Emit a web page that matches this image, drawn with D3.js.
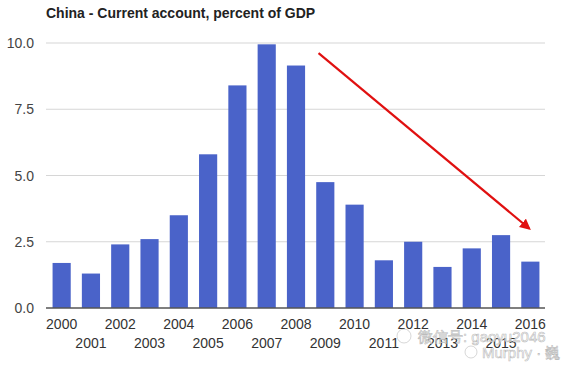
<!DOCTYPE html>
<html>
<head>
<meta charset="UTF-8">
<title>China current account</title>
<script src="https://d3js.org/d3.v7.min.js"></script>
<style>
  body { margin: 0; background: #fff; }
  text { font-family: "Liberation Sans", Arial, sans-serif; }
</style>
</head>
<body>
<div id="chart"></div>
<script>
var years = ["2000","2001","2002","2003","2004","2005","2006","2007","2008",
             "2009","2010","2011","2012","2013","2014","2015","2016"];
var values = [1.7, 1.3, 2.4, 2.6, 3.5, 5.8, 8.4, 9.95, 9.15,
              4.75, 3.9, 1.8, 2.5, 1.55, 2.25, 2.75, 1.75];
var yTicks = [0, 2.5, 5, 7.5, 10];
// trend arrow, in (year index, value) units
var arrowFrom = [8.77, 9.62];
var arrowTo = [15.96, 3.0];

var width = 576, height = 370;
var margin = {top: 43, right: 31, bottom: 62, left: 47};

var svg = d3.select("#chart").append("svg")
  .attr("width", width).attr("height", height);

var x = d3.scaleBand()
  .domain(years)
  .range([margin.left, width - margin.right])
  .paddingInner(0.38).paddingOuter(0.19);

var y = d3.scaleLinear()
  .domain([0, 10])
  .range([height - margin.bottom, margin.top]);

// index scale for the annotation arrow
var xi = d3.scaleLinear()
  .domain([0, years.length - 1])
  .range([x(years[0]) + x.bandwidth() / 2, x(years[years.length - 1]) + x.bandwidth() / 2]);

svg.append("text")
  .attr("x", 46).attr("y", 18)
  .attr("font-size", 14).attr("font-weight", "bold").attr("fill", "#222")
  .text("China - Current account, percent of GDP");

// gridlines
svg.append("g").selectAll("line")
  .data(yTicks.slice(1))
  .join("line")
  .attr("x1", 46).attr("x2", 545)
  .attr("y1", d => y(d)).attr("y2", d => y(d))
  .attr("stroke", "#d6d6d6").attr("stroke-width", 1.2);

svg.append("g").selectAll("text")
  .data(yTicks)
  .join("text")
  .attr("x", 34).attr("y", d => y(d) + 5)
  .attr("text-anchor", "end")
  .attr("font-size", 14).attr("fill", "#444")
  .text(d => d3.format(".1f")(d));

svg.append("g").selectAll("rect")
  .data(values)
  .join("rect")
  .attr("x", (d, i) => x(years[i]))
  .attr("width", x.bandwidth())
  .attr("y", d => y(d))
  .attr("height", d => y(0) - y(d))
  .attr("fill", "#4a63c9");

// baseline
svg.append("line")
  .attr("x1", 46).attr("x2", 545)
  .attr("y1", y(0)).attr("y2", y(0))
  .attr("stroke", "#555").attr("stroke-width", 1.3);

svg.append("g").selectAll("text")
  .data(years)
  .join("text")
  .attr("x", d => x(d) + x.bandwidth() / 2)
  .attr("y", (d, i) => i % 2 === 0 ? 329 : 348)
  .attr("text-anchor", "middle")
  .attr("font-size", 14).attr("fill", "#333")
  .text(d => d);

// red trend arrow
svg.append("defs").append("marker")
  .attr("id", "head")
  .attr("viewBox", "0 0 10 10")
  .attr("refX", 8).attr("refY", 5)
  .attr("markerWidth", 5).attr("markerHeight", 5)
  .attr("orient", "auto")
  .append("path")
  .attr("d", "M0,0L10,5L0,10Z")
  .attr("fill", "#e01010");

svg.append("line")
  .attr("x1", xi(arrowFrom[0])).attr("y1", y(arrowFrom[1]))
  .attr("x2", xi(arrowTo[0])).attr("y2", y(arrowTo[1]))
  .attr("stroke", "#e01010").attr("stroke-width", 2.2)
  .attr("marker-end", "url(#head)");

// faint watermark (white text with grey outline, over the labels)
var wm = svg.append("g")
  .attr("fill", "#fff").attr("fill-opacity", 0.75)
  .attr("stroke", "#aaa").attr("stroke-width", 0.6).attr("stroke-opacity", 0.8);
wm.append("circle").attr("cx", 404).attr("cy", 336).attr("r", 7);
wm.append("text")
  .attr("x", 418).attr("y", 342)
  .attr("font-size", 15)
  .text("微信号: gaoyu2046");
wm.append("circle").attr("cx", 471).attr("cy", 352).attr("r", 6);
wm.append("text")
  .attr("x", 482).attr("y", 358)
  .attr("font-size", 15)
  .text("Murphy · 巍");
</script>
</body>
</html>
